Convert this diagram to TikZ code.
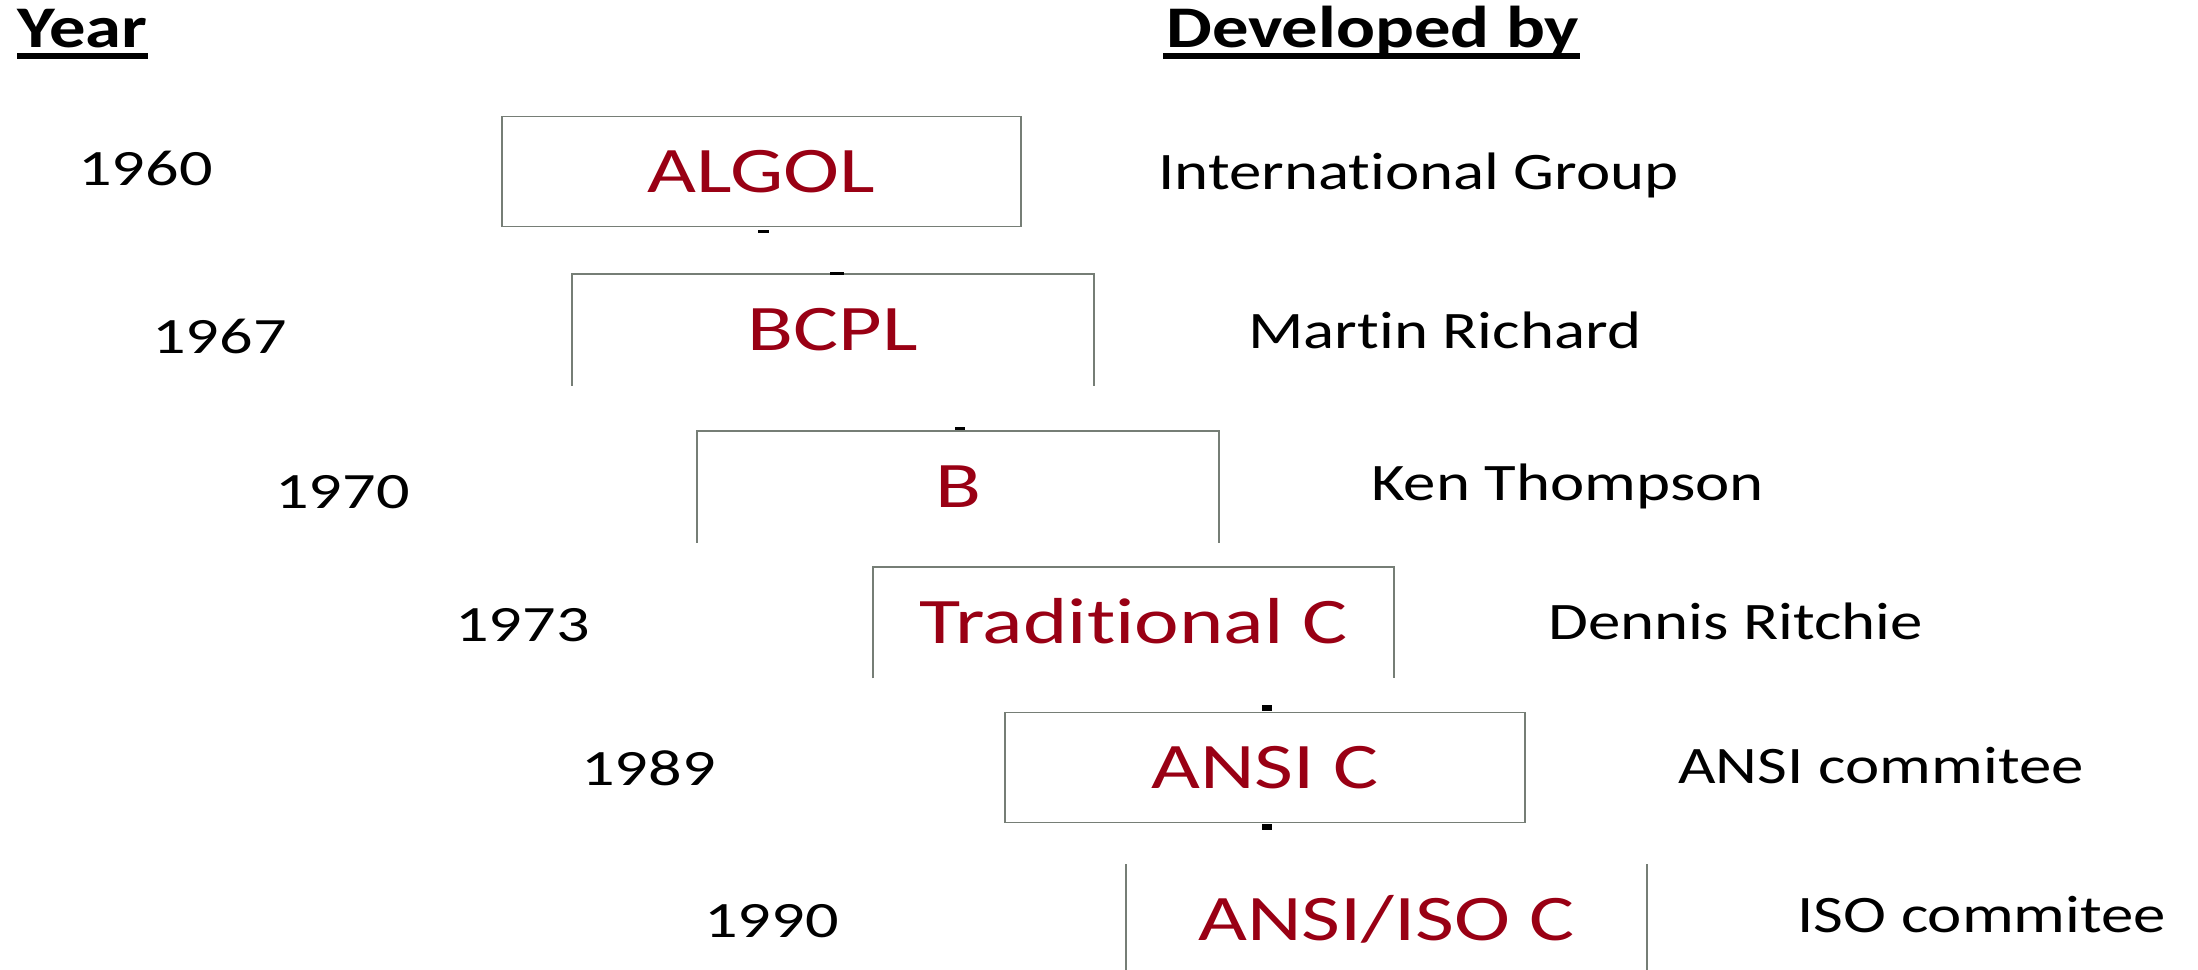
\documentclass[tikz,border=0pt]{standalone}
\usepackage{fontspec}
\setmainfont{Carlito}[Ligatures=NoCommon]
\newfontfamily\langfont{Carlito}[FakeStretch=1.3, Ligatures=NoCommon]
\newfontfamily\notefont{Carlito}[FakeStretch=1.23, Ligatures=NoCommon]
\definecolor{langred}{RGB}{153,0,20}
\definecolor{boxgray}{RGB}{118,126,118}

\begin{document}
\begin{tikzpicture}[
  x=0.02cm, y=-0.02cm,
  lang/.style={
    rectangle, inner sep=0pt, line width=1.1pt,
    minimum width=10.4cm, minimum height=2.2cm,
    text height=23.8pt, text depth=0pt, text=langred,
    font=\langfont\fontsize{37}{40}\selectfont
  },
  year/.style={anchor=base west, inner sep=0pt, font=\langfont\fontsize{29}{32}\selectfont},
  who/.style={anchor=base west, inner sep=0pt, font=\notefont\fontsize{30}{33}\selectfont},
  head/.style={anchor=base west, inner sep=0pt, text depth=0pt,
    font=\notefont\bfseries\fontsize{33.6}{36}\selectfont},
  boxline/.style={draw=boxgray, line width=1.1pt},
  uline/.style={line width=3.4pt},
  stub/.style={line width=1.7pt}
]
  \useasboundingbox (0,0) rectangle (2198,970);

  % Headings
  \node[head] (yearhead) at (17,48) {Year};
  \node[head] (byhead)   at (1166,48) {Developed by};
  \draw[uline] ([yshift=-4.6pt]yearhead.south west) -- ([yshift=-4.6pt]yearhead.south east);
  \draw[uline] ([yshift=-4.6pt,xshift=-1.5pt]byhead.south west) -- ([yshift=-4.6pt]byhead.south east);

  % Languages
  \node[lang, draw=boxgray] (algol) at (761.5,171.5) {ALGOL};
  \node[lang] (bcpl)  at (833,330)    {BCPL};
  \node[lang] (b)     at (958,487)    {B};
  \node[lang] (tradc) at (1133.5,622.5) {Traditional C};
  \node[lang, draw=boxgray] (ansic) at (1265,767.5) {ANSI C};
  \node[lang] (isoc)  at (1386.5,920) {ANSI/ISO C};

  % Open frames
  \draw[boxline] (bcpl.south west) -- (bcpl.north west) -- (bcpl.north east) -- (bcpl.south east);
  \draw[boxline] (b.south west) -- (b.north west) -- (b.north east) -- (b.south east);
  \draw[boxline] (tradc.south west) -- (tradc.north west) -- (tradc.north east) -- (tradc.south east);
  \draw[boxline] (isoc.north west) -- (isoc.south west);
  \draw[boxline] (isoc.north east) -- (isoc.south east);

  % Connector stubs
  \draw[stub] (algol.south) ++(-3.5,4) -- ++(11,0);
  \draw[stub] (bcpl.north) ++(-3,-0.5) -- ++(14,0);
  \draw[stub] (b.north) ++(-3,-2.5) -- ++(10,0);
  \draw[stub, line width=3.4pt] (ansic.north) ++(-3,-3.5) -- ++(10,0);
  \draw[stub, line width=3.4pt] (ansic.south) ++(-3,3.5) -- ++(10,0);

  % Years
  \node[year] (y60) at (78,185)  {1960};
  \node[year] (y67) at (152,353) {1967};
  \node[year] (y70) at (275,508) {1970};
  \node[year] (y73) at (455,641) {1973};
  \node[year] (y89) at (581,785) {1989};
  \node[year] (y90) at (704,937) {1990};

  % Developers
  \node[who] (intl)    at (1158,189) {International Group};
  \node[who] (martin)  at (1248,348) {Martin Richard};
  \node[who] (ken)     at (1371,500) {Ken Thompson};
  \node[who] (dennis)  at (1548,639) {Dennis Ritchie};
  \node[who] (ansicom) at (1678,783) {ANSI commitee};
  \node[who] (isocom)  at (1797,932) {ISO commitee};
\end{tikzpicture}
\end{document}
